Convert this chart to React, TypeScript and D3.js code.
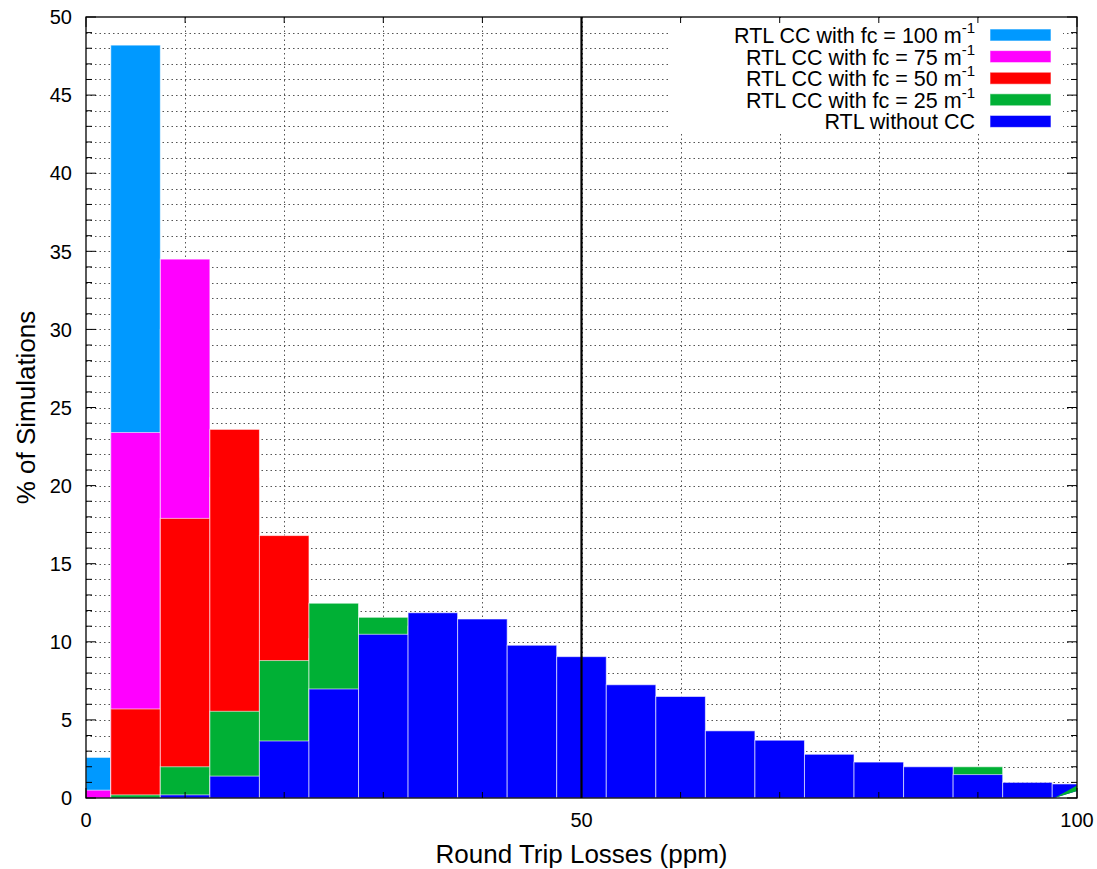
import React from "react";
import * as d3 from "d3";

// Bin centres (ppm), bin width 5
const binCenters = [0, 5, 10, 15, 20, 25, 30, 35, 40, 45, 50, 55, 60, 65, 70, 75, 80, 85, 90, 95, 100];
const fc100 = [2.6, 48.2, 30.0, 12.0, 4.0, 1.5, 0.8, 0.4, 0.2, 0.1, 0, 0, 0, 0, 0, 0, 0, 0, 0, 0, 0];
const fc75 = [0.5, 23.4, 34.5, 20.5, 11.0, 5.0, 2.5, 1.2, 0.6, 0.3, 0.2, 0.1, 0, 0, 0, 0, 0, 0, 0, 0, 0];
const fc50 = [0, 5.7, 17.9, 23.6, 16.8, 10.2, 7.5, 5.0, 3.5, 2.4, 1.6, 1.0, 0.8, 0.5, 0.4, 0.3, 0.2, 0.1, 0.1, 0, 0];
const fc25 = [0, 0.2, 2.0, 5.55, 8.8, 12.47, 11.57, 11.0, 9.5, 8.0, 7.2, 5.5, 4.8, 3.2, 2.4, 1.8, 1.4, 1.2, 2.0, 0.8, 0.5];
const noCC = [0, 0, 0.2, 1.4, 3.65, 6.98, 10.48, 11.86, 11.46, 9.78, 9.05, 7.25, 6.5, 4.3, 3.7, 2.8, 2.3, 2.0, 1.5, 1.0, 0.9];

const seriesNames = [
  "RTL CC with fc = 100 m",
  "RTL CC with fc = 75 m",
  "RTL CC with fc = 50 m",
  "RTL CC with fc = 25 m",
  "RTL without CC",
];
const seriesSup = ["-1", "-1", "-1", "-1", ""];
const seriesColors = ["#0099ff", "#ff00ff", "#ff0000", "#00b035", "#0000ff"];
const seriesValues = [fc100, fc75, fc50, fc25, noCC];

const xMajorTicks = [0, 50, 100];
const xMinorTicks = [10, 20, 30, 40, 60, 70, 80, 90];
const yMajorTicks = [0, 5, 10, 15, 20, 25, 30, 35, 40, 45, 50];
const thresholdX = 50;
const binWidth = 5;

const W = 1097;
const H = 869;
const left = 86;
const right = 1077;
const top = 17;
const bottom = 798;
const FONT = "'Liberation Sans', Arial, Helvetica, sans-serif";

export default function App() {
  const x = d3.scaleLinear().domain([0, 100]).range([left, right]);
  const y = d3.scaleLinear().domain([0, 50]).range([bottom, top]);
  const yMinor = d3.range(1, 50).filter((v) => v % 5 !== 0);
  const yGrid = d3.range(1, 50);
  const xGrid = [...xMinorTicks, 50];

  const clampX = (v: number) => Math.max(0, Math.min(100, v));

  const legendTop = 17;
  const rowH = 21.6;

  return (
    <svg
      width={W}
      height={H}
      style={{ position: "absolute", left: 0, top: 0, background: "#fff" }}
      fontFamily={FONT}
    >
      <rect x={0} y={0} width={W} height={H} fill="#fff" />
      {/* grid */}
      <g stroke="#555" strokeWidth={1} strokeDasharray="1.5,3">
        {yGrid.map((v) => (
          <line key={"gy" + v} x1={left} x2={right} y1={Math.round(y(v)) + 0.5} y2={Math.round(y(v)) + 0.5} />
        ))}
        {xGrid.map((v) => (
          <line key={"gx" + v} y1={top} y2={bottom} x1={Math.round(x(v)) + 0.5} x2={Math.round(x(v)) + 0.5} />
        ))}
      </g>
      {/* bars */}
      {seriesValues.map((vals, si) => (
        <g key={"s" + si}>
          {vals.map((v, i) => {
            if (v <= 0) return null;
            const c = binCenters[i];
            const x0 = x(clampX(c - binWidth / 2));
            const x1 = x(clampX(c + binWidth / 2));
            return (
              <rect
                key={i}
                x={x0}
                y={y(v)}
                width={x1 - x0}
                height={y(0) - y(v)}
                fill={seriesColors[si]}
                stroke="#ffffff"
                strokeOpacity={0.6}
                strokeWidth={1}
              />
            );
          })}
        </g>
      ))}
      {/* clipping artefact in last bin */}
      <polygon
        points={`${x(97.7)},${y(0)} ${x(100)},${y(0.45)} ${x(100)},${y(0)}`}
        fill="#fff"
      />
      <polygon
        points={`${x(97.7)},${y(0)} ${x(100)},${y(0.8)} ${x(100)},${y(0.45)}`}
        fill="#00b035"
      />
      {/* threshold line */}
      <line x1={x(thresholdX)} x2={x(thresholdX)} y1={top} y2={bottom} stroke="#000" strokeWidth={2.2} />
      {/* legend */}
      <rect x={671} y={top + 1} width={392} height={116} fill="#fff" />
      {seriesNames.map((name, i) => {
        const cy = legendTop + 18 + i * rowH;
        return (
          <g key={"lg" + i}>
            <text x={975} y={cy + 8} textAnchor="end" fontSize={21.5} fill="#000">
              {name}
              {seriesSup[i] && (
                <tspan fontSize={15} dy={-10}>
                  {seriesSup[i]}
                </tspan>
              )}
            </text>
            <rect
              x={990}
              y={cy - 6}
              width={61}
              height={12}
              fill={seriesColors[i]}
              stroke="#fff"
              strokeOpacity={0.6}
            />
          </g>
        );
      })}
      {/* frame */}
      <rect x={left} y={top} width={right - left} height={bottom - top} fill="none" stroke="#000" strokeWidth={1.3} />
      {/* ticks */}
      <g stroke="#000" strokeWidth={1}>
        {yMajorTicks.map((v) => (
          <g key={"yt" + v}>
            <line x1={left} x2={left + 10} y1={y(v)} y2={y(v)} />
            <line x1={right} x2={right - 10} y1={y(v)} y2={y(v)} />
          </g>
        ))}
        {yMinor.map((v) => (
          <g key={"ym" + v}>
            <line x1={left} x2={left + 6} y1={y(v)} y2={y(v)} />
            <line x1={right} x2={right - 6} y1={y(v)} y2={y(v)} />
          </g>
        ))}
        {xMajorTicks.map((v) => (
          <g key={"xt" + v}>
            <line x1={x(v)} x2={x(v)} y1={bottom} y2={bottom - 10} />
            <line x1={x(v)} x2={x(v)} y1={top} y2={top + 10} />
          </g>
        ))}
        {xMinorTicks.map((v) => (
          <g key={"xm" + v}>
            <line x1={x(v)} x2={x(v)} y1={bottom} y2={bottom - 6} />
            <line x1={x(v)} x2={x(v)} y1={top} y2={top + 6} />
          </g>
        ))}
      </g>
      {/* tick labels */}
      {yMajorTicks.map((v) => (
        <text key={"yl" + v} x={72} y={y(v)} dy="0.36em" textAnchor="end" fontSize={20} fill="#000">
          {v}
        </text>
      ))}
      {xMajorTicks.map((v) => (
        <text key={"xl" + v} x={x(v)} y={827} textAnchor="middle" fontSize={20} fill="#000">
          {v}
        </text>
      ))}
      {/* axis titles */}
      <text x={(left + right) / 2} y={863} textAnchor="middle" fontSize={26} fill="#000">
        Round Trip Losses (ppm)
      </text>
      <text
        transform={`translate(35, ${(top + bottom) / 2}) rotate(-90)`}
        textAnchor="middle"
        fontSize={26}
        fill="#000"
      >
        % of Simulations
      </text>
    </svg>
  );
}
